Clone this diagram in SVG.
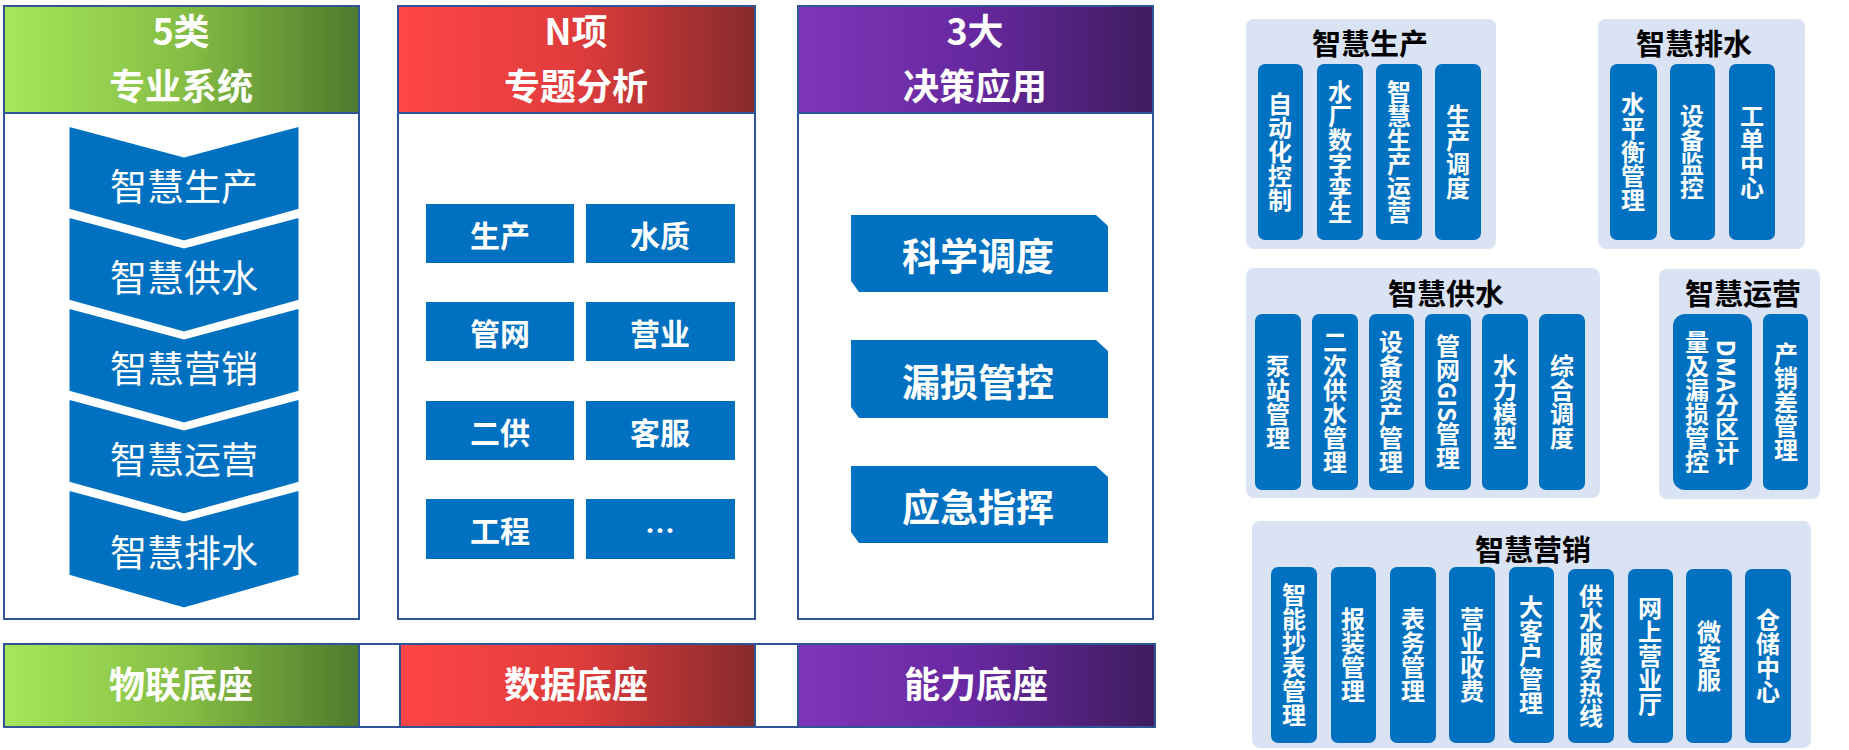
<svg xmlns="http://www.w3.org/2000/svg" width="1849" height="750" viewBox="0 0 1849 750">
<defs>
<linearGradient id="gG" x1="0" x2="1"><stop offset="0" stop-color="#A6E65A"/><stop offset="0.5" stop-color="#86BF45"/><stop offset="1" stop-color="#4E7A2C"/></linearGradient>
<linearGradient id="gR" x1="0" x2="1"><stop offset="0" stop-color="#FF4646"/><stop offset="0.5" stop-color="#E03C3C"/><stop offset="1" stop-color="#862A2C"/></linearGradient>
<linearGradient id="gP" x1="0" x2="1"><stop offset="0" stop-color="#7E36B8"/><stop offset="0.5" stop-color="#67289F"/><stop offset="1" stop-color="#3F1C5E"/></linearGradient>
<style>
.col{fill:#fff;stroke:#2F5597;stroke-width:2}
.hd{stroke:#2F5597;stroke-width:2}
.ht{font-family:"Noto Sans CJK SC",sans-serif;font-weight:bold;font-size:36px;fill:#fff;text-anchor:middle}
.blue{fill:#0070C0}
.ch{fill:#0070C0;stroke:#fff;stroke-width:3}
.ct{font-family:"Noto Sans CJK SC",sans-serif;font-size:37px;fill:#fff;text-anchor:middle;dominant-baseline:central}
.bt{font-family:"Noto Sans CJK SC",sans-serif;font-weight:bold;font-size:30px;fill:#fff;text-anchor:middle;dominant-baseline:central}
.rt{font-family:"Noto Sans CJK SC",sans-serif;font-weight:bold;font-size:38px;fill:#fff;text-anchor:middle;dominant-baseline:central}
.pn{fill:#DAE3F3}
.pt{font-family:"Noto Sans CJK SC",sans-serif;font-weight:bold;font-size:29px;fill:#000;text-anchor:middle;dominant-baseline:central}
.vb{fill:#0070C0}
.vt{font-family:"Noto Sans CJK SC",sans-serif;font-weight:bold;font-size:24px;fill:#fff;text-anchor:middle;writing-mode:vertical-rl}
</style>
</defs>
<g id="col1">
<rect class="col" x="4" y="6" width="355" height="613"/>
<rect x="4" y="6" width="355" height="107" fill="url(#gG)" class="hd"/>
<text class="ht" x="181" y="45">5类</text><text class="ht" x="181" y="100">专业系统</text>
</g>
<g id="col2">
<rect class="col" x="398" y="6" width="357" height="613"/>
<rect x="398" y="6" width="357" height="107" fill="url(#gR)" class="hd"/>
<text class="ht" x="576" y="45">N项</text><text class="ht" x="576" y="100">专题分析</text>
</g>
<g id="col3">
<rect class="col" x="798" y="6" width="355" height="613"/>
<rect x="798" y="6" width="355" height="107" fill="url(#gP)" class="hd"/>
<text class="ht" x="975" y="45">3大</text><text class="ht" x="975" y="100">决策应用</text>
</g>
<g id="chevrons">
<g id="c1"><path class="ch" d="M68 125 L184 156 L300 125 L300 210 L184 242 L68 210 Z"/><text class="ct" x="184" y="185">智慧生产</text></g>
<g id="c2"><path class="ch" d="M68 216 L184 247 L300 216 L300 301 L184 333 L68 301 Z"/><text class="ct" x="184" y="276">智慧供水</text></g>
<g id="c3"><path class="ch" d="M68 307 L184 338 L300 307 L300 392 L184 424 L68 392 Z"/><text class="ct" x="184" y="367">智慧营销</text></g>
<g id="c4"><path class="ch" d="M68 398 L184 429 L300 398 L300 483 L184 515 L68 483 Z"/><text class="ct" x="184" y="458">智慧运营</text></g>
<g id="c5"><path class="ch" d="M68 489 L184 520 L300 489 L300 576 L184 609 L68 576 Z"/><text class="ct" x="184" y="551">智慧排水</text></g>
</g>
<g id="topics">
<rect class="blue" x="426" y="204" width="148" height="59"/><text class="bt" x="500" y="234">生产</text>
<rect class="blue" x="586" y="204" width="149" height="59"/><text class="bt" x="660" y="234">水质</text>
<rect class="blue" x="426" y="302" width="148" height="59"/><text class="bt" x="500" y="332">管网</text>
<rect class="blue" x="586" y="302" width="149" height="59"/><text class="bt" x="660" y="332">营业</text>
<rect class="blue" x="426" y="401" width="148" height="59"/><text class="bt" x="500" y="431">二供</text>
<rect class="blue" x="586" y="401" width="149" height="59"/><text class="bt" x="660" y="431">客服</text>
<rect class="blue" x="426" y="499" width="148" height="60"/><text class="bt" x="500" y="529">工程</text>
<rect class="blue" x="586" y="499" width="149" height="60"/><text class="bt" x="660" y="529">…</text>
</g>
<g id="apps">
<path class="blue" d="M851 215 L1096 215 L1108 226 L1108 292 L859 292 L851 281 Z"/><text class="rt" x="978" y="253">科学调度</text>
<path class="blue" d="M851 340 L1096 340 L1108 351 L1108 418 L859 418 L851 407 Z"/><text class="rt" x="978" y="379">漏损管控</text>
<path class="blue" d="M851 466 L1096 466 L1108 477 L1108 543 L859 543 L851 532 Z"/><text class="rt" x="978" y="504">应急指挥</text>
</g>
<g id="bases">
<rect x="4" y="644" width="355" height="83" fill="url(#gG)" class="hd"/><text class="ht" x="181" y="698">物联底座</text>
<rect x="359" y="644" width="41" height="83" fill="#fff" class="hd"/>
<rect x="400" y="644" width="355" height="83" fill="url(#gR)" class="hd"/><text class="ht" x="576" y="698">数据底座</text>
<rect x="755" y="644" width="43" height="83" fill="#fff" class="hd"/>
<rect x="798" y="644" width="357" height="83" fill="url(#gP)" class="hd"/><text class="ht" x="976" y="698">能力底座</text>
</g>
<g id="p-prod">
<rect class="pn" x="1246" y="19" width="250" height="230" rx="8"/>
<text class="pt" x="1370" y="42">智慧生产</text>
<rect class="vb" x="1258" y="64" width="45" height="176" rx="7"/><text class="vt" x="1280" y="152">自动化控制</text>
<rect class="vb" x="1317" y="64" width="46" height="176" rx="7"/><text class="vt" x="1340" y="152">水厂数字孪生</text>
<rect class="vb" x="1376" y="64" width="46" height="176" rx="7"/><text class="vt" x="1399" y="152">智慧生产运营</text>
<rect class="vb" x="1435" y="64" width="46" height="176" rx="7"/><text class="vt" x="1458" y="152">生产调度</text>
</g>
<g id="p-drain">
<rect class="pn" x="1598" y="19" width="207" height="230" rx="8"/>
<text class="pt" x="1694" y="42">智慧排水</text>
<rect class="vb" x="1610" y="64" width="47" height="176" rx="7"/><text class="vt" x="1633" y="152">水平衡管理</text>
<rect class="vb" x="1670" y="64" width="45" height="176" rx="7"/><text class="vt" x="1692" y="152">设备监控</text>
<rect class="vb" x="1729" y="64" width="46" height="176" rx="7"/><text class="vt" x="1752" y="152">工单中心</text>
</g>
<g id="p-supply">
<rect class="pn" x="1246" y="268" width="354" height="230" rx="8"/>
<text class="pt" x="1446" y="292">智慧供水</text>
<rect class="vb" x="1255" y="314" width="46" height="176" rx="7"/><text class="vt" x="1278" y="402">泵站管理</text>
<rect class="vb" x="1312" y="314" width="46" height="176" rx="7"/><text class="vt" x="1335" y="402">二次供水管理</text>
<rect class="vb" x="1369" y="314" width="45" height="176" rx="7"/><text class="vt" x="1391" y="402">设备资产管理</text>
<rect class="vb" x="1425" y="314" width="46" height="176" rx="7"/><text class="vt" x="1448" y="402">管网GIS管理</text>
<rect class="vb" x="1482" y="314" width="46" height="176" rx="7"/><text class="vt" x="1505" y="402">水力模型</text>
<rect class="vb" x="1539" y="314" width="46" height="176" rx="7"/><text class="vt" x="1562" y="402">综合调度</text>
</g>
<g id="p-ops">
<rect class="pn" x="1659" y="269" width="161" height="230" rx="8"/>
<text class="pt" x="1743" y="292">智慧运营</text>
<rect class="vb" x="1673" y="314" width="79" height="176" rx="12"/>
<text class="vt" x="1727" y="402">DMA分区计</text><text class="vt" x="1697" y="402">量及漏损管控</text>
<rect class="vb" x="1763" y="314" width="45" height="176" rx="7"/><text class="vt" x="1786" y="402">产销差管理</text>
</g>
<g id="p-mkt">
<rect class="pn" x="1252" y="521" width="559" height="227" rx="8"/>
<text class="pt" x="1533" y="548">智慧营销</text>
<rect class="vb" x="1271" y="567" width="46" height="176" rx="7"/><text class="vt" x="1294" y="655">智能抄表管理</text>
<rect class="vb" x="1331" y="567" width="45" height="176" rx="7"/><text class="vt" x="1353" y="655">报装管理</text>
<rect class="vb" x="1390" y="567" width="46" height="176" rx="7"/><text class="vt" x="1413" y="655">表务管理</text>
<rect class="vb" x="1449" y="567" width="46" height="176" rx="7"/><text class="vt" x="1472" y="655">营业收费</text>
<rect class="vb" x="1509" y="567" width="45" height="176" rx="7"/><text class="vt" x="1531" y="655">大客户管理</text>
<rect class="vb" x="1568" y="569" width="46" height="174" rx="7"/><text class="vt" x="1591" y="656">供水服务热线</text>
<rect class="vb" x="1628" y="569" width="45" height="174" rx="7"/><text class="vt" x="1650" y="656">网上营业厅</text>
<rect class="vb" x="1686" y="569" width="46" height="174" rx="7"/><text class="vt" x="1709" y="656">微客服</text>
<rect class="vb" x="1745" y="569" width="46" height="174" rx="7"/><text class="vt" x="1768" y="656">仓储中心</text>
</g>
<g id="connectors"/>
</svg>
